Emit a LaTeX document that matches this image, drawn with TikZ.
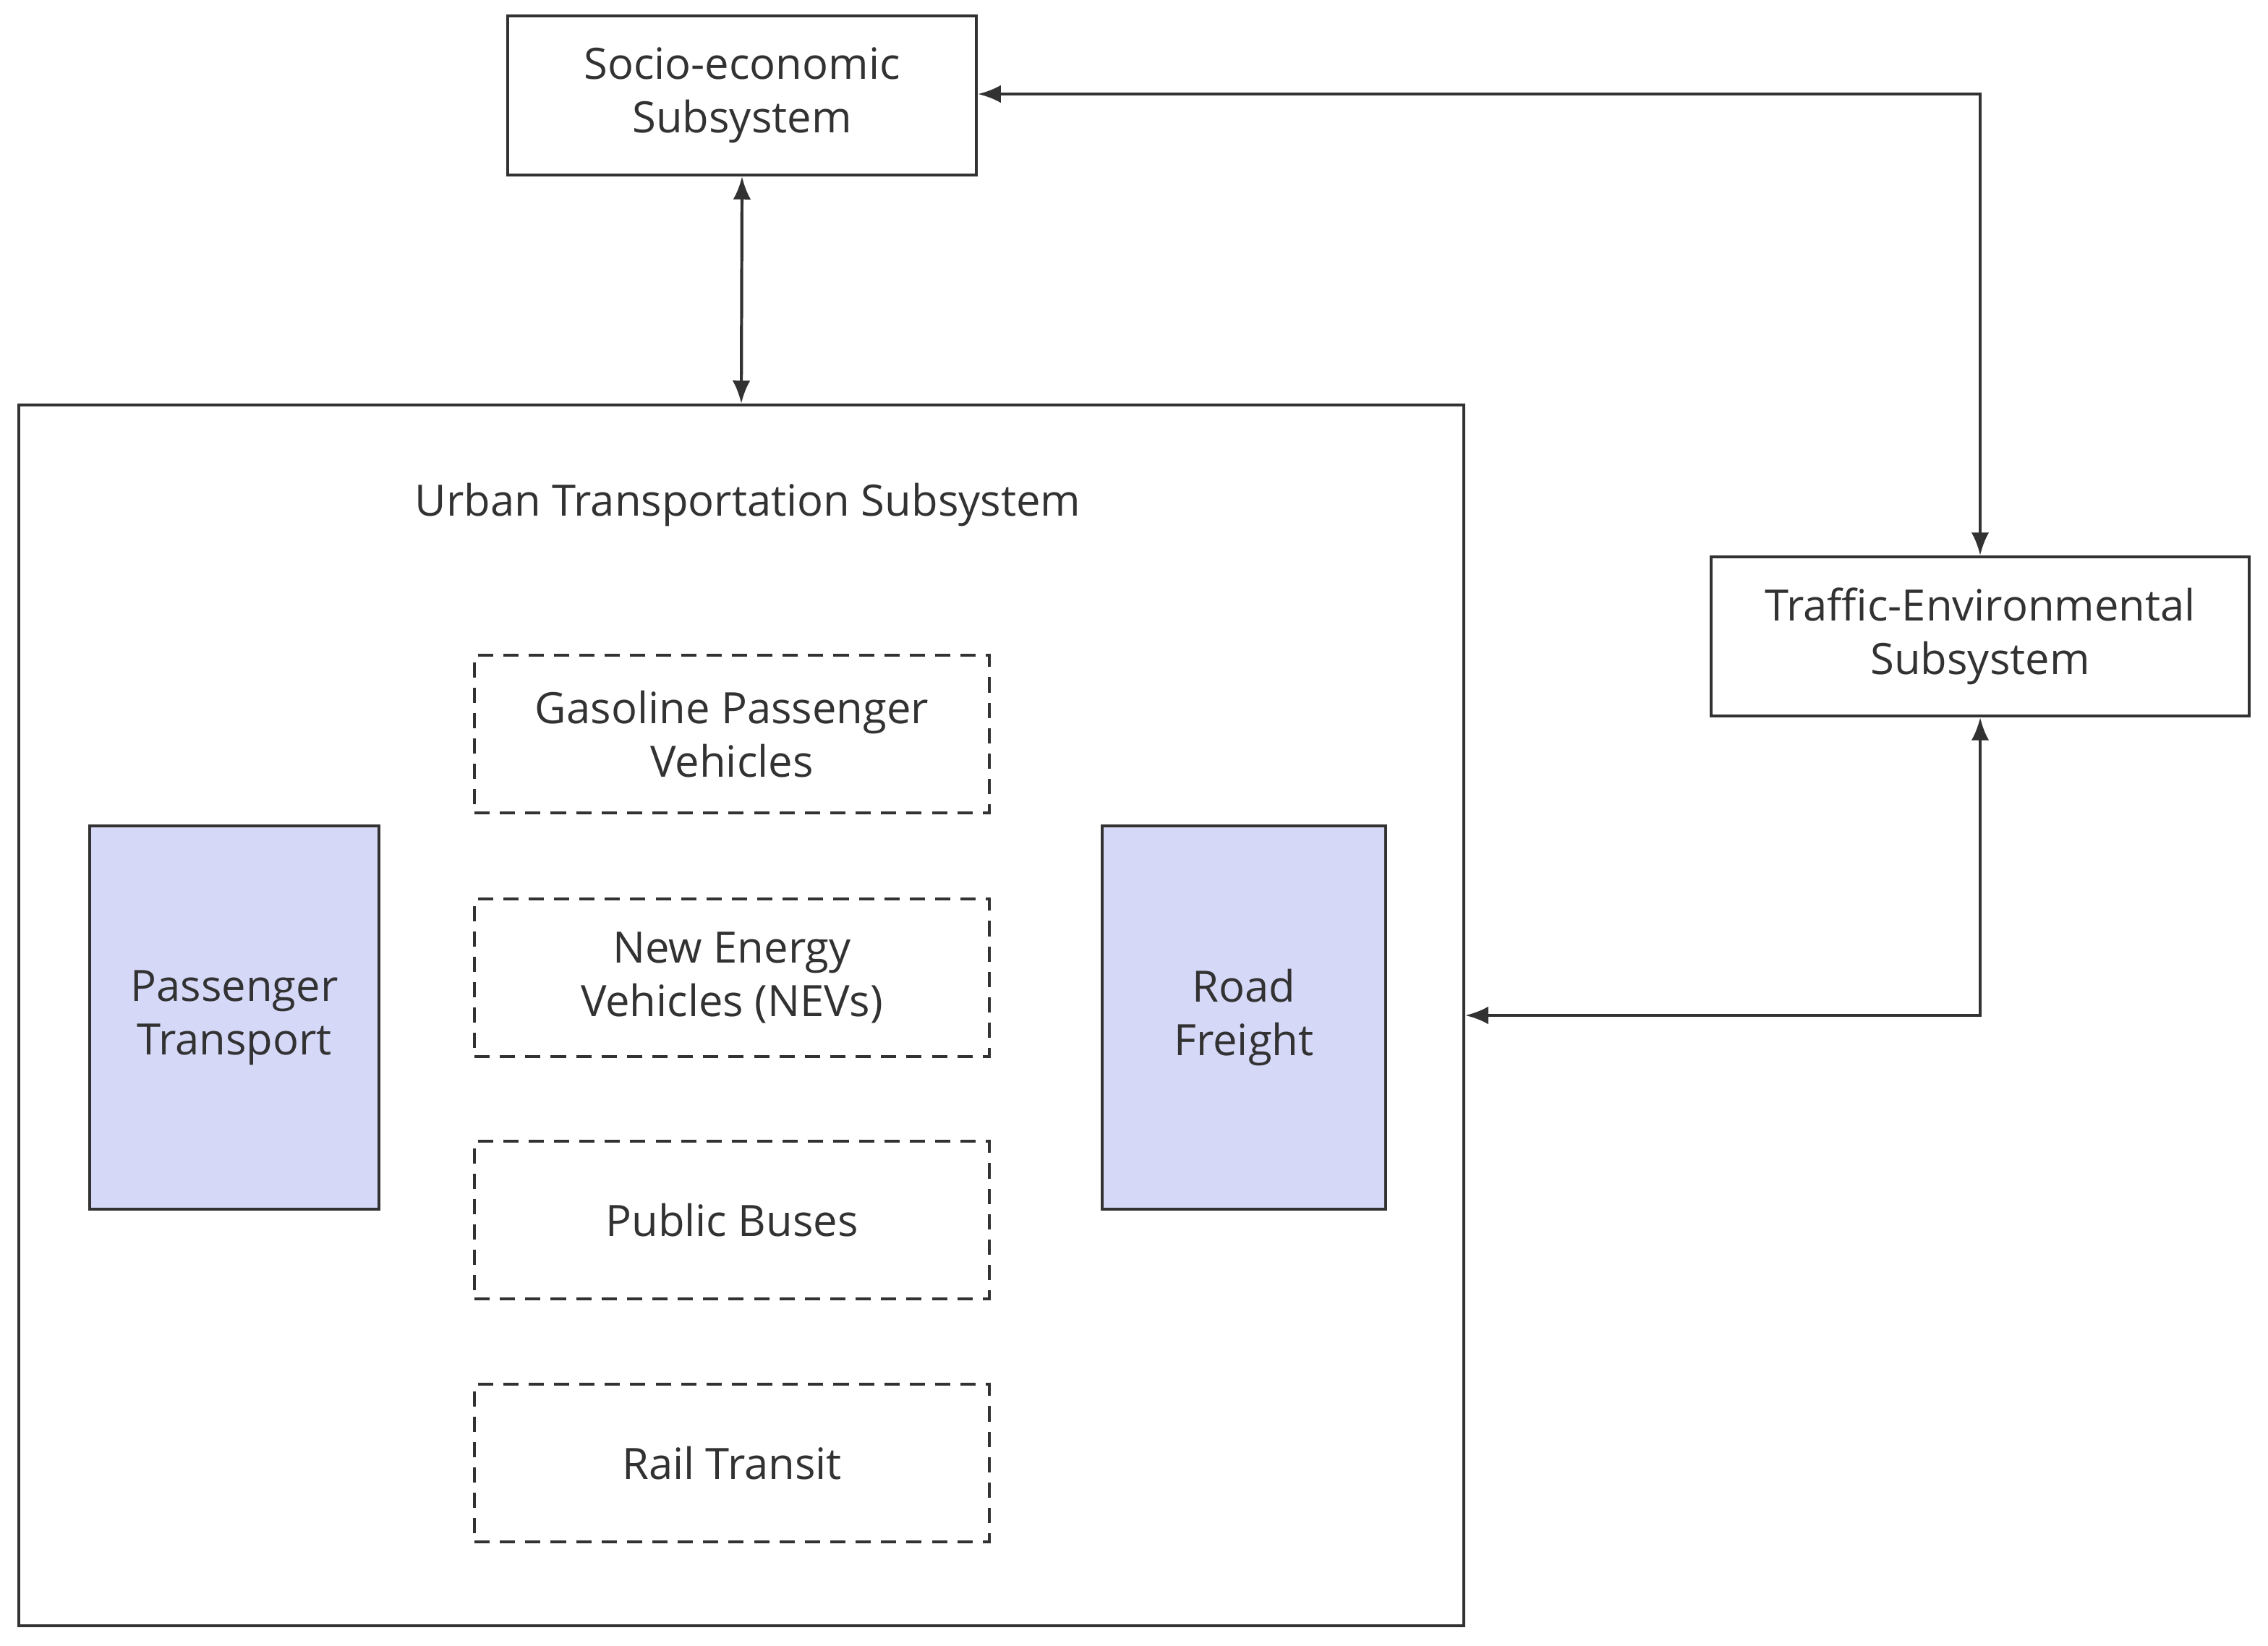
\documentclass[tikz,border=0pt]{standalone}
\usepackage{fontspec}
\setmainfont{Open Sans}
\usetikzlibrary{arrows.meta}
\definecolor{lav}{RGB}{213,216,247}
\definecolor{ln}{RGB}{50,50,50}
\begin{document}
\begin{tikzpicture}[x=0.02cm,y=-0.02cm,
  box/.style={draw=ln,line width=1.2pt,align=center,inner sep=0pt,font=\fontsize{17}{21}\selectfont,text=ln},
  dbox/.style={box,dash pattern=on 6pt off 4pt},
  fbox/.style={box,fill=lav},
  arr/.style={draw=ln,line width=1.2pt,{Latex[length=9pt,width=7pt]}-{Latex[length=9pt,width=7pt]}}]
\useasboundingbox (0,0) rectangle (1568,1137.5);
\node[box,minimum width=324*0.02cm,minimum height=110*0.02cm] (se) at (513,66) {Socio-economic\\Subsystem};
\node[box,minimum width=999*0.02cm,minimum height=844*0.02cm] (ut) at (512.5,702) {};
\node[font=\fontsize{17}{21}\selectfont,text=ln] (tt) at (517,349) {Urban Transportation Subsystem};
\node[box,minimum width=372*0.02cm,minimum height=110*0.02cm] (te) at (1369,440) {Traffic-Environmental\\Subsystem};
\node[dbox,minimum width=356*0.02cm,minimum height=109*0.02cm] (g) at (506,507.5) {Gasoline Passenger\\Vehicles};
\node[dbox,minimum width=356*0.02cm,minimum height=109*0.02cm] (n) at (506,676) {New Energy\\Vehicles (NEVs)};
\node[dbox,minimum width=356*0.02cm,minimum height=109*0.02cm] (b) at (506,843.5) {Public Buses};
\node[dbox,minimum width=356*0.02cm,minimum height=109*0.02cm] (r) at (506,1011.5) {Rail Transit};
\node[fbox,minimum width=200*0.02cm,minimum height=265*0.02cm] (p) at (162,703.5) {Passenger\\Transport};
\node[fbox,minimum width=196*0.02cm,minimum height=265*0.02cm] (f) at (860,703.5) {Road\\Freight};
\coordinate (c1) at (1369,65);
\coordinate (c2) at (1369,702);
\draw[arr] (se.south) -- (ut.north);
\draw[arr] (se.east |- c1) -- (c1) -- (te.north);
\draw[arr] (te.south) -- (c2) -- (ut.east |- c2);
\end{tikzpicture}
\end{document}
